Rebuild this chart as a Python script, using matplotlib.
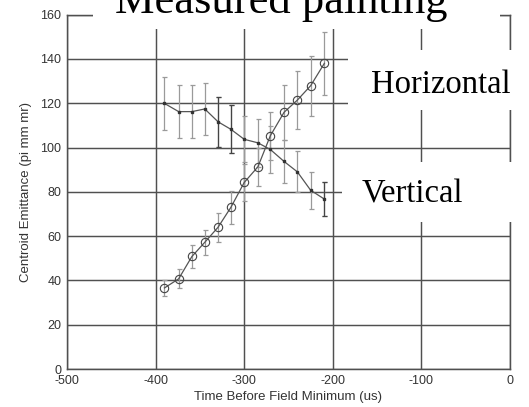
import matplotlib
matplotlib.use("Agg")
import matplotlib.pyplot as plt
from matplotlib.patches import Rectangle

plt.rcParams["axes.unicode_minus"] = False

# ---- data ----
time_us = [-390, -374, -359, -344.5, -329.5, -315, -300, -284.5, -270.5, -255, -240, -225, -209.5]
horizontal = [36.6, 40.7, 50.8, 57.2, 64.0, 73.0, 84.2, 91.3, 105.3, 115.9, 121.4, 127.9, 138.0]
horizontal_err = [3.7, 4.3, 5.2, 5.6, 6.6, 7.4, 8.5, 8.7, 10.9, 12.4, 13.0, 13.5, 14.1]
vertical = [119.9, 116.2, 116.2, 117.4, 111.6, 108.2, 103.7, 102.1, 99.1, 93.7, 89.0, 80.7, 76.7]
vertical_err = [12.1, 11.9, 11.9, 11.8, 11.2, 10.9, 10.3, 10.7, 10.6, 9.7, 9.2, 8.3, 7.8]

x_ticks = [-500, -400, -300, -200, -100, 0]
y_ticks = [0, 20, 40, 60, 80, 100, 120, 140, 160]

title_text = "Measured painting"
label_h = "Horizontal"
label_v = "Vertical"
xlabel = "Time Before Field Minimum (us)"
ylabel = "Centroid Emittance (pi mm mr)"

W, H = 529, 407
fig = plt.figure(figsize=(W / 100, H / 100), dpi=100)
ax = fig.add_axes([67 / W, 1 - 369 / H, (510 - 67) / W, (369 - 14.6) / H])

grid_c = "#505050"
ax.set_xlim(-500, 0)
ax.set_ylim(0, 160)
ax.set_xticks(x_ticks)
ax.set_yticks(y_ticks)
ax.grid(True, color=grid_c, lw=1.05)
ax.set_axisbelow(True)
for s in ax.spines.values():
    s.set_color(grid_c)
    s.set_linewidth(1.05)
ax.tick_params(length=0, labelsize=9, labelcolor="#333333", pad=4,
               labelfontfamily="Liberation Sans")
ax.set_xlabel(xlabel, fontsize=9.5, color="#333333", family="Liberation Sans", labelpad=3)
ax.set_ylabel(ylabel, fontsize=9.5, color="#333333", family="Liberation Sans", labelpad=6)

line_c = "#555555"
err_c = "#9a9a9a"
dark_err = "#444444"
dark_idx = [4, 5, 12]

# horizontal (open circles)
ax.errorbar(time_us, horizontal, yerr=horizontal_err, fmt="none", ecolor=err_c,
            elinewidth=0.9, capsize=1.8, capthick=0.9, zorder=3)
ax.plot(time_us, horizontal, color=line_c, lw=0.9, marker="o", ms=6,
        mfc="none", mec="#444444", mew=0.8, zorder=4)

# vertical (small dots)
ax.errorbar(time_us, vertical, yerr=vertical_err, fmt="none", ecolor=err_c,
            elinewidth=0.9, capsize=1.8, capthick=0.9, zorder=3)
ax.errorbar([time_us[i] for i in dark_idx], [vertical[i] for i in dark_idx],
            yerr=[vertical_err[i] for i in dark_idx], fmt="none", ecolor=dark_err,
            elinewidth=0.9, capsize=1.8, capthick=0.9, zorder=3)
ax.plot(time_us, vertical, color=line_c, lw=0.9, marker="s", ms=2.0,
        mfc="#333333", mec="#333333", zorder=4)

# white boxes pasted over the chart
def box(x0, y0, x1, y1):
    r = Rectangle((x0 / W, 1 - y1 / H), (x1 - x0) / W, (y1 - y0) / H,
                  transform=fig.transFigure, facecolor="white", edgecolor="none", zorder=10)
    fig.add_artist(r)

box(93, 0, 500, 29)
box(348, 50, 529, 110)
box(342, 162, 529, 222)

serif = ["Liberation Serif", "DejaVu Serif"]
fig.text(281.5 / W, 1 - 12.5 / H, title_text, ha="center", va="baseline",
         fontsize=32, family=serif, color="black", zorder=11)
fig.text(371 / W, 1 - 93 / H, label_h, ha="left", va="baseline",
         fontsize=23.5, family=serif, color="black", zorder=11)
fig.text(362 / W, 1 - 202.5 / H, label_v, ha="left", va="baseline",
         fontsize=23.5, family=serif, color="black", zorder=11)

fig.savefig("out.png", dpi=100)
